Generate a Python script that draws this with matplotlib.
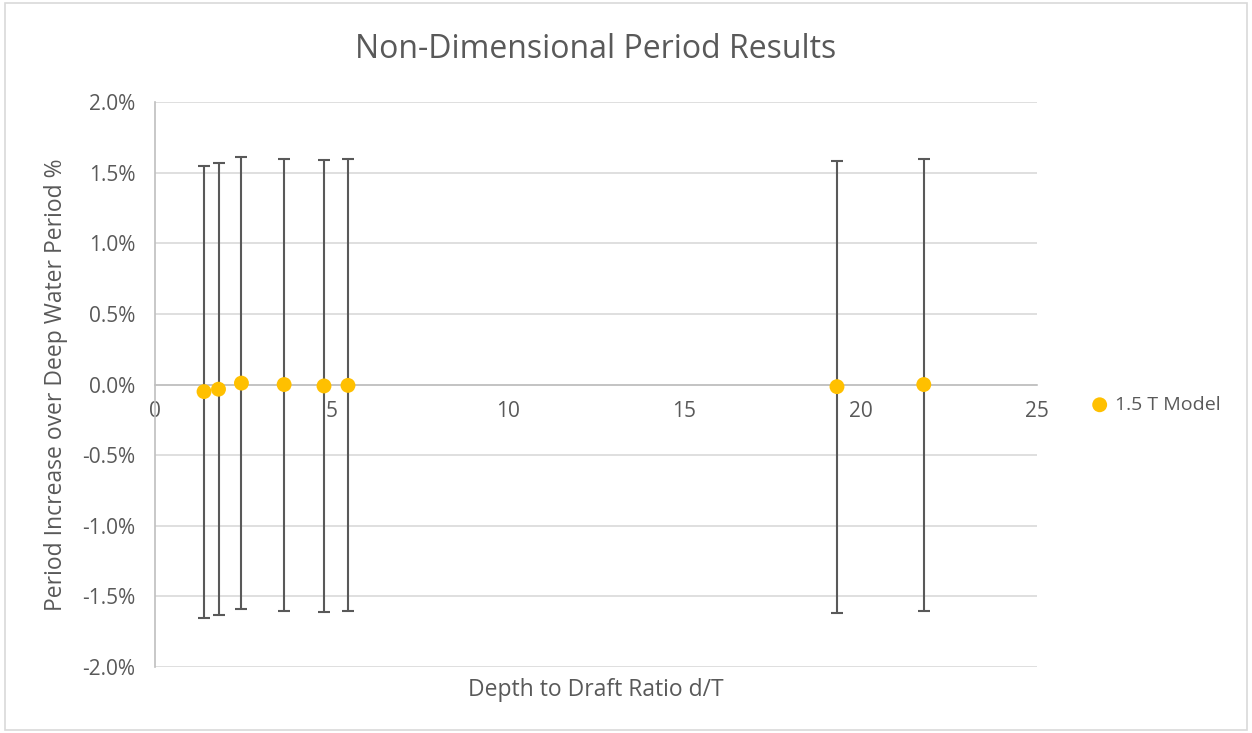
import numpy as np
import matplotlib.pyplot as plt
from matplotlib.ticker import FuncFormatter
from matplotlib.patches import Rectangle

# Depth to draft ratio and period increase (%), error bars in %
depth_ratio = [1.39, 1.80, 2.45, 3.66, 4.79, 5.47, 19.33, 21.79]
period_increase = [-0.05, -0.033, 0.01, 0.0, -0.01, -0.006, -0.015, 0.0]
error_pct = [1.6, 1.6, 1.6, 1.6, 1.6, 1.6, 1.6, 1.6]
series_name = "1.5 T Model"

plt.rcParams['font.family'] = ['Open Sans', 'DejaVu Sans']
text_col = '#595959'

fig = plt.figure(figsize=(12.52, 7.33), dpi=100)
ax = fig.add_axes([0.1238, 0.09, 0.8283 - 0.1238, 0.8608 - 0.09])

# error bars first, then markers on top
ax.errorbar(depth_ratio, period_increase, yerr=error_pct, fmt='none',
            ecolor='#595959', elinewidth=1.5, capsize=4.3, capthick=1.5, zorder=3)
ax.scatter(depth_ratio, period_increase, s=115, color='#FFC000', zorder=4,
           label=series_name, edgecolors='none')

ax.set_xlim(0, 25)
ax.set_ylim(-2.0, 2.0)
ax.set_xticks(np.arange(0, 26, 5))
ax.set_yticks(np.arange(-2.0, 2.01, 0.5))
ax.yaxis.set_major_formatter(FuncFormatter(lambda v, p: f"{v:.1f}%"))

ax.grid(axis='y', color='#d9d9d9', linewidth=1.2, zorder=0)
ax.set_axisbelow(True)
for s in ['top', 'right']:
    ax.spines[s].set_visible(False)
ax.spines['bottom'].set_position(('data', 0))
ax.spines['bottom'].set_color('#bfbfbf')
ax.spines['bottom'].set_linewidth(1.2)
ax.spines['left'].set_color('#bfbfbf')
ax.spines['left'].set_linewidth(1.2)
ax.tick_params(length=0, labelsize=15, colors=text_col)
ax.tick_params(axis='x', pad=12)
ax.tick_params(axis='y', pad=14)

ax.set_title("Non-Dimensional Period Results", fontsize=23, color=text_col, pad=32)
ax.set_ylabel("Period Increase over Deep Water Period %", fontsize=16.5, color=text_col, labelpad=10)
fig.text((0.1238 + 0.8283) / 2, (733 - 690) / 733, "Depth to Draft Ratio d/T",
         ha='center', va='center', fontsize=16.5, color=text_col)

leg = ax.legend(loc='center left', bbox_to_anchor=(1.06, 0.464), frameon=False,
                fontsize=14, handlelength=1.0, handletextpad=0.3, borderpad=0,
                borderaxespad=0, labelcolor=text_col)

# outer chart border
fig.patches.append(Rectangle((0.004, 0.004), 0.992, 0.992, transform=fig.transFigure,
                             fill=False, edgecolor='#d9d9d9', linewidth=1.2))

fig.savefig("out.png", dpi=100)
